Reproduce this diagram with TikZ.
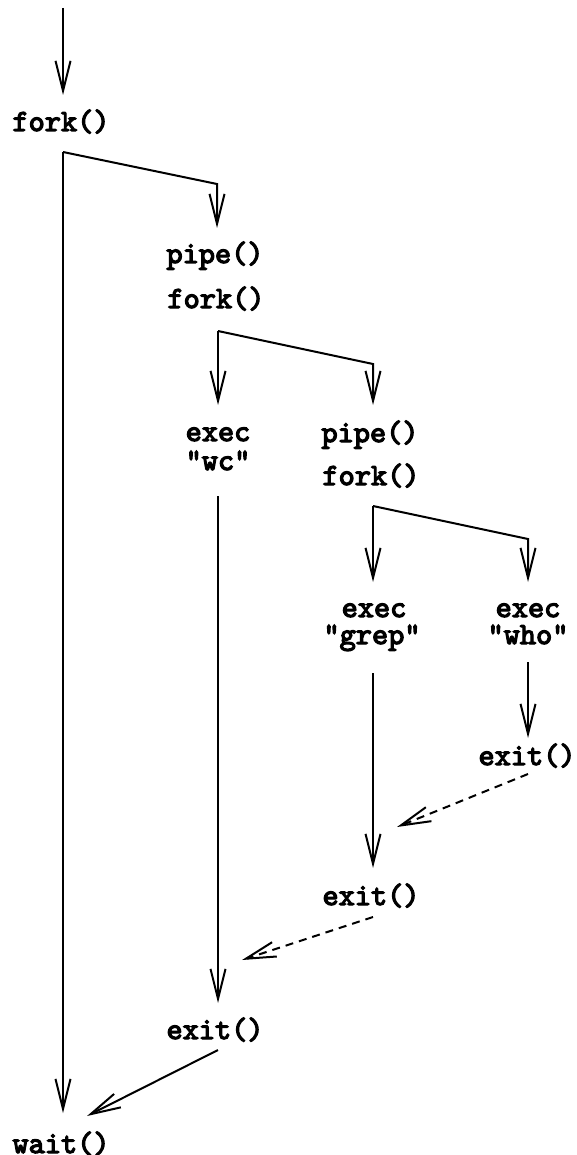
\documentclass[tikz,border=0pt]{standalone}
\usepackage{fontspec}
\newfontfamily\codefont{lmmono10-regular.otf}[FakeBold=4]
\usetikzlibrary{arrows.meta}
\begin{document}
\begin{tikzpicture}[x=0.5pt,y=-0.5pt,
  lbl/.style={anchor=base,inner sep=0pt,font=\fontsize{15.4}{18}\selectfont\codefont},
  flow/.style={line width=1pt,-{Straight Barb[length=15pt,width=7.5pt,line width=1pt]}},
  sig/.style={flow,dash pattern=on 4pt off 3pt}]
\useasboundingbox (0,0) rectangle (577,1155);
% text nodes
\node[lbl] (fork1) at (61,131) {fork()};
\node[lbl] (pipe1) at (215,263) {pipe()};
\node[lbl] (fork2) at (216,308) {fork()};
\node[lbl] (execwc) at (218,441) {exec};
\node[lbl] (wc) at (218,470) {"wc"};
\node[lbl] (pipe2) at (370,442) {pipe()};
\node[lbl] (fork3) at (371,485) {fork()};
\node[lbl] (execgrep) at (374,617) {exec};
\node[lbl] (grep) at (372,644) {"grep"};
\node[lbl] (execwho) at (528,617) {exec};
\node[lbl] (who) at (528,644) {"who"};
\node[lbl] (exitwho) at (527,765) {exit()};
\node[lbl] (exitgrep) at (371,905) {exit()};
\node[lbl] (exitwc) at (215,1039) {exit()};
\node[lbl] (wait) at (61,1153) {wait()};
% coordinates
\coordinate (start) at (63,8);
\coordinate (t1) at (63,95);
\coordinate (c1) at (63,152);
\coordinate (r1) at (217,184);
\coordinate (t2) at (217,228);
\coordinate (c2) at (218,331);
\coordinate (r2) at (373,364);
\coordinate (t3) at (218,405);
\coordinate (t4) at (373,405);
\coordinate (s5) at (218,496);
\coordinate (t5) at (218,1003);
\coordinate (c3) at (373,506);
\coordinate (r3) at (528,539);
\coordinate (t6) at (373,582);
\coordinate (t7) at (528,582);
\coordinate (s8) at (373,673);
\coordinate (t8) at (373,868);
\coordinate (s9) at (528,662);
\coordinate (t9) at (528,738);
\coordinate (s10) at (528,774);
\coordinate (t10) at (397,827);
\coordinate (s11) at (373,917);
\coordinate (t11) at (242,960);
\coordinate (s12) at (218,1050);
\coordinate (t12) at (87,1116);
\coordinate (t13) at (63,1113);
% connectors
\draw[flow] (start) -- (t1);
\draw[flow] (c1) -- (t13);
\draw[flow] (c1) -- (r1) -- (t2);
\draw[flow] (c2) -- (t3);
\draw[flow] (c2) -- (r2) -- (t4);
\draw[flow] (s5) -- (t5);
\draw[flow] (c3) -- (t6);
\draw[flow] (c3) -- (r3) -- (t7);
\draw[flow] (s8) -- (t8);
\draw[flow] (s9) -- (t9);
\draw[sig] (s10) -- (t10);
\draw[sig] (s11) -- (t11);
\draw[flow] (s12) -- (t12);
\end{tikzpicture}
\end{document}
